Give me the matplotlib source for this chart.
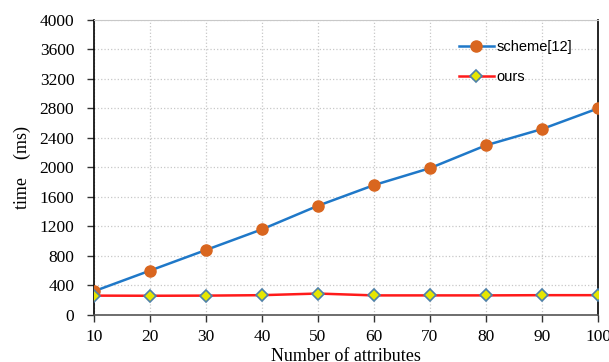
import matplotlib.pyplot as plt
from matplotlib.ticker import MultipleLocator

attrs = [10, 20, 30, 40, 50, 60, 70, 80, 90, 100]
scheme12 = [320, 600, 880, 1160, 1480, 1760, 1990, 2300, 2520, 2800]
ours = [262, 260, 262, 268, 290, 265, 265, 265, 268, 268]

fig = plt.figure(figsize=(6.09, 3.62), dpi=100)
ax = fig.add_axes([0.154, 0.130, 0.828, 0.815])

ax.plot(attrs, scheme12, color='#1f78c8', lw=1.8, marker='o', ms=8,
        mfc='#d9661f', mec='#d9661f', label='scheme[12]', zorder=3)
ax.plot(attrs, ours, color='#ff1a1a', lw=1.8, marker='D', ms=6,
        mfc='#e6e600', mec='#4f81a8', mew=1.2, label='ours', zorder=4)

ax.set_xlim(10, 100)
ax.set_ylim(0, 4000)
ax.set_xticks(attrs)
ax.yaxis.set_major_locator(MultipleLocator(400))
ax.grid(True, color='#c8c8c8', ls=':', lw=0.9)
ax.set_axisbelow(True)

serif = ['Liberation Serif', 'DejaVu Serif']
for lab in ax.get_xticklabels() + ax.get_yticklabels():
    lab.set_family(serif)
    lab.set_fontsize(12.5)
ax.tick_params(direction='out', length=5, width=1, color='#333333')
ax.tick_params(axis='y', pad=9)
ax.tick_params(axis='x', pad=5)
ax.set_xlabel('Number of attributes', family=serif, fontsize=13, labelpad=2)
ax.set_ylabel('time\u3000(ms)', family=serif + ['Noto Sans CJK SC'],
              fontsize=13, labelpad=6)

for s in ['left', 'right']:
    ax.spines[s].set_color('black')
    ax.spines[s].set_linewidth(1.2)
ax.spines['bottom'].set_color('#555555')
ax.spines['bottom'].set_linewidth(1.2)
ax.spines['top'].set_color('#c8c8c8')
ax.spines['top'].set_linewidth(0.8)

leg = ax.legend(loc='upper right', frameon=False, bbox_to_anchor=(0.975, 0.975),
                prop={'family': 'Liberation Sans', 'size': 10.5},
                handlelength=2.4, labelspacing=1.1, handletextpad=0.2)

fig.savefig('out.png', dpi=100)
